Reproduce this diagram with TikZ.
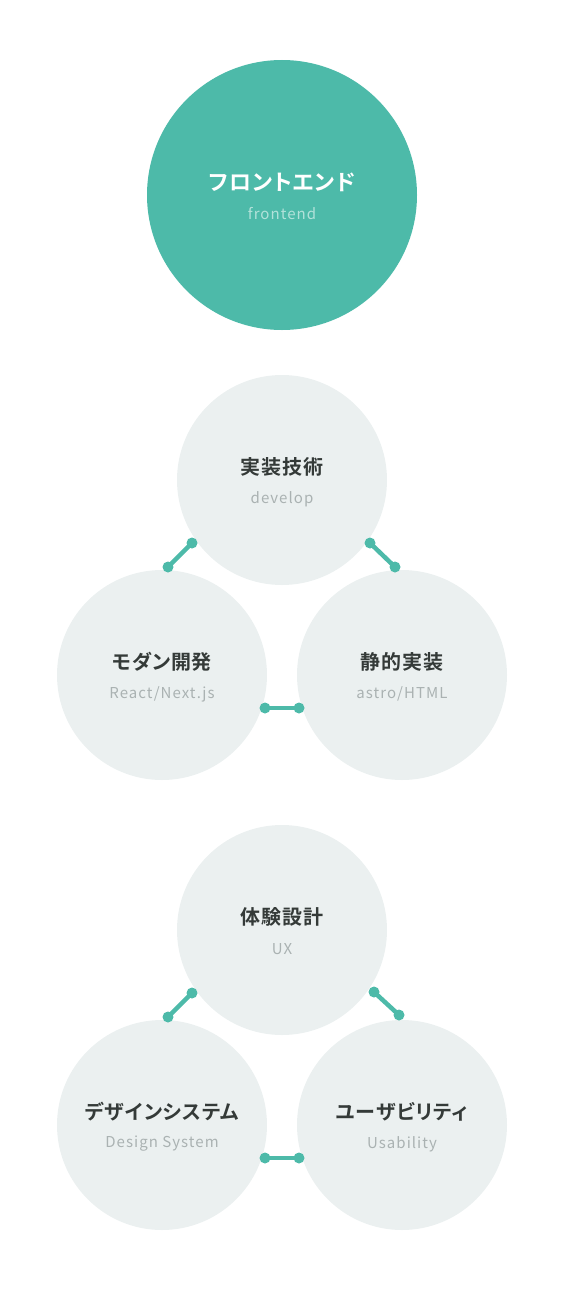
\documentclass[tikz,border=0pt]{standalone}
\usepackage{fontspec}
\setmainfont{Noto Sans CJK JP}
\newfontfamily\headfont{Noto Sans CJK JP Bold}[LetterSpace=4, RawFeature=+palt]
\newfontfamily\subfont{Noto Sans CJK JP}[LetterSpace=7]
\usetikzlibrary{positioning, calc}
\definecolor{myteal}{RGB}{77,186,169}
\definecolor{mylight}{RGB}{235,240,240}
\definecolor{mydark}{RGB}{52,58,56}
\definecolor{mygray}{RGB}{170,178,178}
\definecolor{mypale}{RGB}{178,226,218}
\tikzset{
  mainball/.style={circle, fill=myteal, minimum size=270pt, inner sep=0pt},
  skillball/.style={circle, fill=mylight, minimum size=210pt, inner sep=0pt},
  maintitle/.style={font=\headfont\fontsize{22}{24}\selectfont, text=white, inner sep=0pt},
  mainsub/.style={font=\subfont\fontsize{15}{16}\selectfont, text=mypale, inner sep=0pt},
  skilltitle/.style={font=\headfont\fontsize{20}{22}\selectfont, text=mydark, inner sep=0pt},
  skillsub/.style={font=\subfont\fontsize{15}{16}\selectfont, text=mygray, inner sep=0pt},
  link/.style={line width=4.5pt, color=myteal},
  knob/.style={fill=myteal}
}
\newcommand{\dumbbell}[2]{%
  \draw[link] (#1) -- (#2);
  \fill[knob] (#1) circle (5.5pt);
  \fill[knob] (#2) circle (5.5pt);
}
\begin{document}
\begin{tikzpicture}[x=1pt, y=-1pt]
  \useasboundingbox (0,0) rectangle (563,1290);

  % Top circle
  \node[mainball] (front) at (282,195) {};
  \node[maintitle] (fronttitle) at ([yshift=13pt]front.center) {フロントエンド};
  \node[mainsub] (frontsub) at ([yshift=-19pt]front.center) {frontend};

  % First group
  \node[skillball] (impl) at (282,480) {};
  \node[skillball] (modern) at (162,675) {};
  \node[skillball] (static) at (402,675) {};
  \node[skilltitle] at ([yshift=13pt]impl.center) {実装技術};
  \node[skillsub] at ([yshift=-19pt]impl.center) {develop};
  \node[skilltitle] at ([yshift=13pt]modern.center) {モダン開発};
  \node[skillsub] at ([yshift=-19pt]modern.center) {React/Next.js};
  \node[skilltitle] at ([yshift=13pt]static.center) {静的実装};
  \node[skillsub] at ([yshift=-19pt]static.center) {astro/HTML};

  % Connectors, first group
  \coordinate (a1) at (192,543);
  \coordinate (a2) at (168,567);
  \coordinate (b1) at (370,543);
  \coordinate (b2) at (395,567);
  \coordinate (c1) at (265,708);
  \coordinate (c2) at (299,708);
  \dumbbell{a1}{a2}
  \dumbbell{b1}{b2}
  \dumbbell{c1}{c2}

  % Second group
  \node[skillball] (ux) at (282,930) {};
  \node[skillball] (design) at (162,1125) {};
  \node[skillball] (usab) at (402,1125) {};
  \node[skilltitle] at ([yshift=13pt]ux.center) {体験設計};
  \node[skillsub] at ([yshift=-19pt]ux.center) {UX};
  \node[skilltitle] at ([yshift=13pt]design.center) {デザインシステム};
  \node[skillsub] at ([yshift=-19pt]design.center) {Design System};
  \node[skilltitle] at ([yshift=13pt]usab.center) {ユーザビリティ};
  \node[skillsub] at ([yshift=-19pt]usab.center) {Usability};

  % Connectors, second group
  \coordinate (d1) at (192,993);
  \coordinate (d2) at (168,1017);
  \coordinate (e1) at (374,992);
  \coordinate (e2) at (399,1015);
  \coordinate (f1) at (265,1158);
  \coordinate (f2) at (299,1158);
  \dumbbell{d1}{d2}
  \dumbbell{e1}{e2}
  \dumbbell{f1}{f2}
\end{tikzpicture}
\end{document}
